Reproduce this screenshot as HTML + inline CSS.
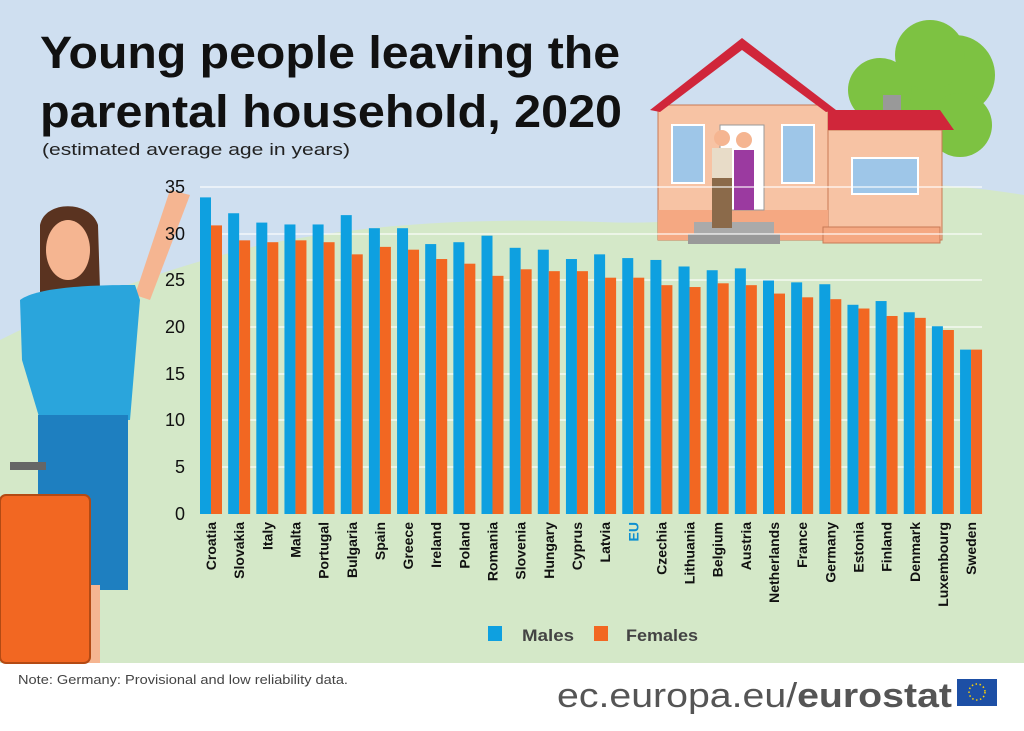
<!DOCTYPE html>
<html><head><meta charset="utf-8"><style>
body{margin:0;width:1024px;height:726px;overflow:hidden;background:#fff;font-family:"Liberation Sans",sans-serif}
</style></head><body>
<svg width="1024" height="726" viewBox="0 0 1024 726" xmlns="http://www.w3.org/2000/svg">
<rect x="0" y="0" width="1024" height="663" fill="#cfdff0"/>
<path d="M0,340 C80,300 160,270 260,245 C380,222 480,218 600,222 C700,226 760,210 840,190 C900,180 960,185 1024,195 L1024,663 L0,663 Z" fill="#d4e8c8"/>
<rect x="0" y="663" width="1024" height="63" fill="#fff"/>
<text x="40" y="68" font-size="45" font-weight="bold" fill="#111" textLength="580" lengthAdjust="spacingAndGlyphs">Young people leaving the</text>
<text x="40" y="127" font-size="45" font-weight="bold" fill="#111" textLength="582" lengthAdjust="spacingAndGlyphs">parental household, 2020</text>
<text x="42" y="155" font-size="17" fill="#222" textLength="308" lengthAdjust="spacingAndGlyphs">(estimated average age in years)</text>
<!-- tree -->
<circle cx="920" cy="100" r="45" fill="#7dc242"/>
<circle cx="880" cy="90" r="32" fill="#7dc242"/>
<circle cx="955" cy="75" r="40" fill="#7dc242"/>
<circle cx="930" cy="55" r="35" fill="#7dc242"/>
<circle cx="960" cy="125" r="32" fill="#7dc242"/>
<rect x="827" y="130" width="115" height="110" fill="#f7c3a4" stroke="#c87a55"/>
<rect x="658" y="105" width="170" height="135" fill="#f7c3a4" stroke="#c87a55"/>
<polygon points="650,110 742,38 836,110 826,112 742,50 660,112" fill="#d0263a"/>
<polygon points="828,110 940,110 954,130 828,130" fill="#d0263a"/>
<rect x="883" y="95" width="18" height="15" fill="#999"/>
<rect x="658" y="210" width="170" height="30" fill="#f5a882"/>
<rect x="823" y="227" width="117" height="16" fill="#f5a882" stroke="#c87a55"/>
<rect x="672" y="125" width="32" height="58" fill="#9ec6e8" stroke="#fff" stroke-width="2"/>
<rect x="782" y="125" width="32" height="58" fill="#9ec6e8" stroke="#fff" stroke-width="2"/>
<rect x="852" y="158" width="66" height="36" fill="#9ec6e8" stroke="#fff" stroke-width="2"/>
<rect x="720" y="125" width="44" height="85" fill="#fff" stroke="#999"/>
<rect x="688" y="234" width="92" height="10" fill="#999"/>
<rect x="694" y="222" width="80" height="12" fill="#aaa"/>
<rect x="712" y="148" width="20" height="32" fill="#e8dcc8"/>
<rect x="712" y="178" width="20" height="50" fill="#8b6a4a"/>
<circle cx="722" cy="138" r="8" fill="#f5b591"/>
<rect x="734" y="150" width="20" height="60" fill="#9b3aa0"/>
<circle cx="744" cy="140" r="8" fill="#f5b591"/>
<!-- woman -->
<path d="M170,190 L190,195 L150,300 L135,295 Z" fill="#f5b591"/>
<path d="M40,225 C45,200 90,200 98,225 L100,290 L40,300 Z" fill="#5a3320"/>
<ellipse cx="68" cy="250" rx="22" ry="30" fill="#f5b591"/>
<path d="M20,300 C40,285 110,285 135,285 L140,300 L130,420 L40,420 L22,360 Z" fill="#2aa5dc"/>
<rect x="38" y="415" width="90" height="175" fill="#1e7fc0"/>
<rect x="60" y="585" width="40" height="78" fill="#f5b591"/>
<rect x="10" y="462" width="36" height="8" fill="#666"/>
<rect x="0" y="495" width="90" height="168" rx="6" fill="#f26722" stroke="#b34a14" stroke-width="2"/>
<!-- grid -->
<g stroke="#fff" stroke-width="1.3" opacity="0.9">
<line x1="200" y1="187" x2="982" y2="187"/><line x1="200" y1="234" x2="982" y2="234"/>
<line x1="200" y1="280" x2="982" y2="280"/><line x1="200" y1="327" x2="982" y2="327"/>
<line x1="200" y1="374" x2="982" y2="374"/><line x1="200" y1="420" x2="982" y2="420"/>
<line x1="200" y1="467" x2="982" y2="467"/>
</g>
<g font-size="18" fill="#111" text-anchor="end">
<text x="185" y="193">35</text><text x="185" y="240">30</text><text x="185" y="286">25</text>
<text x="185" y="333">20</text><text x="185" y="380">15</text><text x="185" y="426">10</text>
<text x="185" y="473">5</text><text x="185" y="520">0</text>
</g>
<g id="bars"></g>
<g id="labels" font-size="14" font-weight="bold" fill="#111"></g>
<rect x="488" y="626" width="14" height="15" fill="#0ea0e0"/>
<text x="522" y="641" font-size="17" font-weight="bold" fill="#444" textLength="52" lengthAdjust="spacingAndGlyphs">Males</text>
<rect x="594" y="626" width="14" height="15" fill="#f26722"/>
<text x="626" y="641" font-size="17" font-weight="bold" fill="#444" textLength="72" lengthAdjust="spacingAndGlyphs">Females</text>
<text x="18" y="684" font-size="13" fill="#444" textLength="330" lengthAdjust="spacingAndGlyphs">Note: Germany: Provisional and low reliability data.</text>
<text x="557" y="707" font-size="34" fill="#555" textLength="395" lengthAdjust="spacingAndGlyphs">ec.europa.eu/<tspan font-weight="bold">eurostat</tspan></text>
<rect x="957" y="679" width="40" height="27" fill="#1d4fa5"/>
<circle cx="977" cy="692" r="8" fill="none" stroke="#ffd200" stroke-width="1.5" stroke-dasharray="1.5 2.5"/>
<script>
var d=[["Croatia",33.9,30.9],["Slovakia",32.2,29.3],["Italy",31.2,29.1],["Malta",31.0,29.3],["Portugal",31.0,29.1],["Bulgaria",32.0,27.8],["Spain",30.6,28.6],["Greece",30.6,28.3],["Ireland",28.9,27.3],["Poland",29.1,26.8],["Romania",29.8,25.5],["Slovenia",28.5,26.2],["Hungary",28.3,26.0],["Cyprus",27.3,26.0],["Latvia",27.8,25.3],["EU",27.4,25.3],["Czechia",27.2,24.5],["Lithuania",26.5,24.3],["Belgium",26.1,24.7],["Austria",26.3,24.5],["Netherlands",25.0,23.6],["France",24.8,23.2],["Germany",24.6,23.0],["Estonia",22.4,22.0],["Finland",22.8,21.2],["Denmark",21.6,21.0],["Luxembourg",20.1,19.7],["Sweden",17.6,17.6]];
var ns="http://www.w3.org/2000/svg",b=document.getElementById("bars"),l=document.getElementById("labels");
d.forEach(function(r,i){var x=200+i*28.15;
[[r[1],"#0ea0e0",x],[r[2],"#f26722",x+11]].forEach(function(v){var e=document.createElementNS(ns,"rect");var h=v[0]*9.34;e.setAttribute("x",v[2]);e.setAttribute("y",514-h);e.setAttribute("width",11);e.setAttribute("height",h);e.setAttribute("fill",v[1]);b.appendChild(e);});
var t=document.createElementNS(ns,"text");t.setAttribute("transform","translate("+(x+16)+",522) rotate(-90)");t.setAttribute("text-anchor","end");if(r[0]=="EU")t.setAttribute("fill","#0e8fd0");t.textContent=r[0];l.appendChild(t);});
</script>
</svg>
</body></html>
